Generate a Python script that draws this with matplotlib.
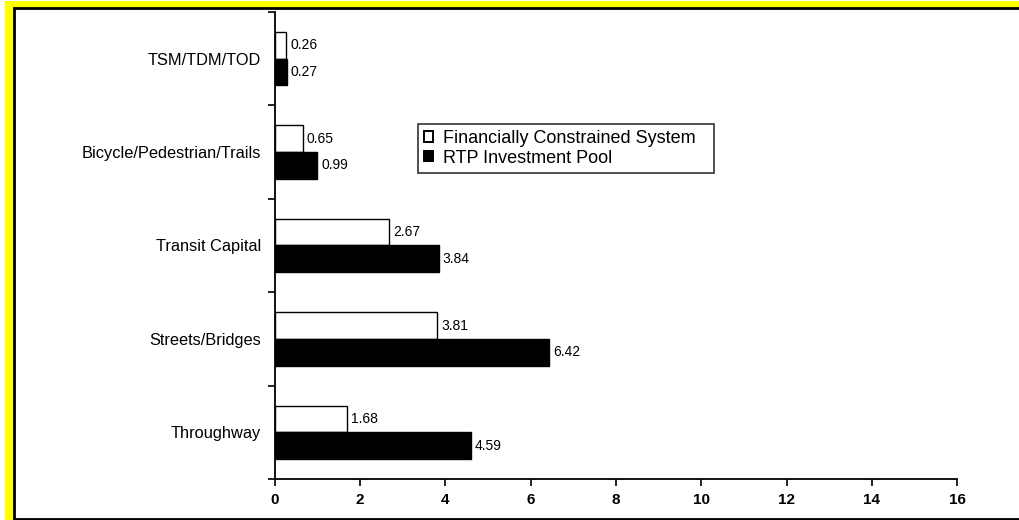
import matplotlib
matplotlib.use("Agg")
import matplotlib.pyplot as plt
from matplotlib.patches import Rectangle
import numpy as np

plt.rcParams['font.family'] = ['Liberation Sans', 'DejaVu Sans']

categories = ["Throughway", "Streets/Bridges", "Transit Capital",
              "Bicycle/Pedestrian/Trails", "TSM/TDM/TOD"]
financially_constrained = [1.68, 3.81, 2.67, 0.65, 0.26]
rtp_investment_pool = [4.59, 6.42, 3.84, 0.99, 0.27]
x_ticks = [0, 2, 4, 6, 8, 10, 12, 14, 16]

W, H = 1020, 520
fig = plt.figure(figsize=(W / 100, H / 100), dpi=100)
fig.patch.set_facecolor("white")

# yellow surround, then white panel with black frame, both behind the axes
surround = Rectangle((5 / W, 0), 1.0, 1 - 1 / H, transform=fig.transFigure,
                     facecolor="#ffff00", edgecolor="none", zorder=-6)
frame = Rectangle((14 / W, 1 - 519 / H), 1.0, (519 - 8) / H,
                  transform=fig.transFigure, facecolor="white",
                  edgecolor="black", linewidth=2.0, zorder=-5)
fig.patches.extend([surround, frame])

ax = fig.add_axes([275 / W, 1 - 479 / H, (957 - 275) / W, (479 - 12) / H])
ax.set_facecolor("none")
ax.set_zorder(1)

y = np.arange(len(categories))
h = 0.285
ax.barh(y + h / 2, financially_constrained, height=h, color="white",
        edgecolor="black", linewidth=1.0, label="Financially Constrained System")
ax.barh(y - h / 2, rtp_investment_pool, height=h, color="black",
        edgecolor="black", linewidth=1.0, label="RTP Investment Pool")

for yi, v in zip(y + h / 2, financially_constrained):
    ax.annotate(f"{v:.2f}", (v, yi), xytext=(3, 0), textcoords="offset points",
                va="center", ha="left", fontsize=10)
for yi, v in zip(y - h / 2, rtp_investment_pool):
    ax.annotate(f"{v:.2f}", (v, yi), xytext=(3, 0), textcoords="offset points",
                va="center", ha="left", fontsize=10)

ax.set_xlim(0, 16)
ax.set_ylim(-0.5, len(categories) - 0.5)
ax.set_xticks(x_ticks)
ax.set_xticklabels([str(t) for t in x_ticks], fontweight="bold", fontsize=11)

# category labels centred in each band, tick marks on band boundaries
ax.set_yticks(y)
ax.set_yticklabels(categories, fontsize=11.8)
ax.tick_params(axis="y", which="major", length=0, pad=10)
ax.set_yticks(np.arange(-0.5, len(categories)), minor=True)
ax.tick_params(axis="y", which="minor", length=5, width=1.2, direction="out")
ax.tick_params(axis="x", length=5, width=1.2, direction="out", pad=5)

for s in ["top", "right"]:
    ax.spines[s].set_visible(False)
for s in ["left", "bottom"]:
    ax.spines[s].set_linewidth(1.3)

leg_x0 = (418 - 275) / 682
leg_w = (714 - 418) / 682
leg_top = 1 - (124 - 12) / 467
leg = ax.legend(loc="upper left", bbox_to_anchor=(leg_x0, leg_top - 0.2, leg_w, 0.2),
                mode="expand", frameon=True, fancybox=False, fontsize=13,
                handlelength=0.5, handleheight=0.5, handletextpad=0.55,
                borderpad=0.33, labelspacing=0.15, borderaxespad=0)
leg.get_frame().set_edgecolor("black")
leg.get_frame().set_linewidth(1.2)
for patch in leg.get_patches():
    patch.set_linewidth(1.4)

fig.savefig("out.png", dpi=100, facecolor=fig.get_facecolor())
